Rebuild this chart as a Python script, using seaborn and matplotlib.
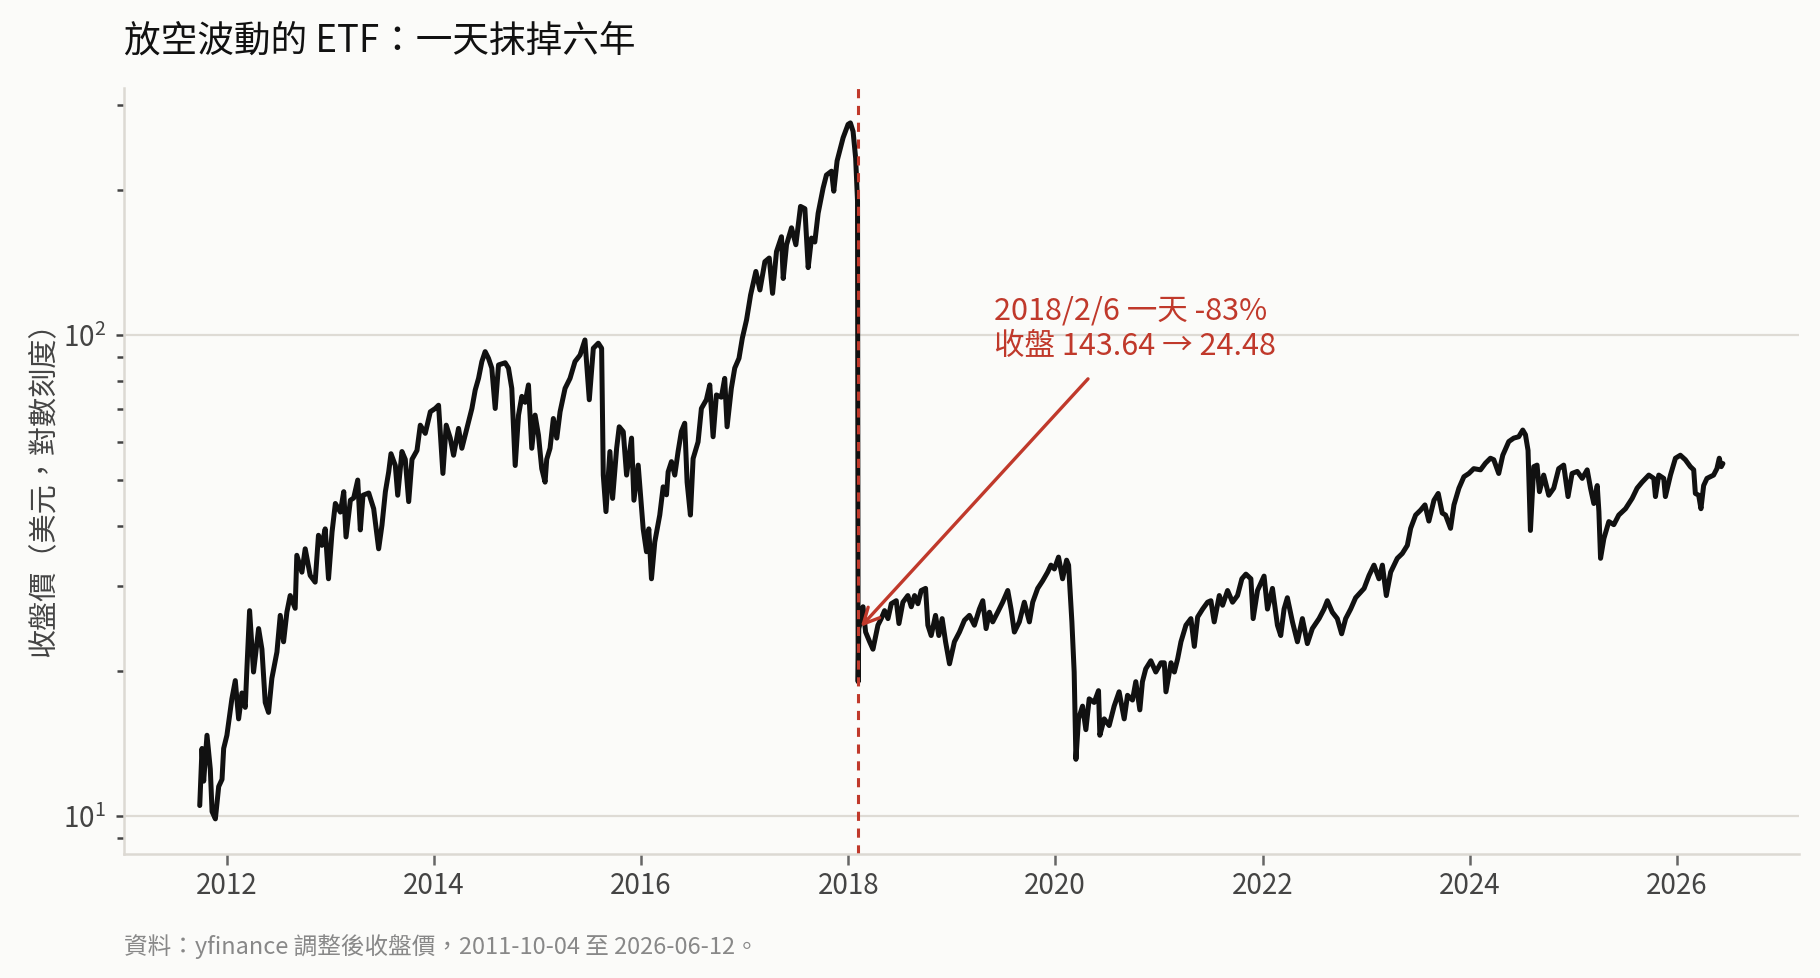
import pandas as pd
import seaborn as sns
import matplotlib.pyplot as plt
import matplotlib.dates as mdates

# decimal year, adjusted close
t_2011_2015 = [
    2011.740, 2011.762, 2011.778, 2011.810, 2011.842, 2011.859, 2011.891, 2011.923, 2011.955, 2011.971,
    2012.003, 2012.051, 2012.084, 2012.116, 2012.148, 2012.180, 2012.196, 2012.222, 2012.260, 2012.309,
    2012.341, 2012.373, 2012.405, 2012.437, 2012.486, 2012.518, 2012.550, 2012.582, 2012.614, 2012.662,
    2012.678, 2012.727, 2012.759, 2012.807, 2012.855, 2012.887, 2012.920, 2012.952, 2012.984, 2013.016,
    2013.048, 2013.096, 2013.129, 2013.151, 2013.193, 2013.225, 2013.264, 2013.289, 2013.315, 2013.370,
    2013.418, 2013.466, 2013.498, 2013.531, 2013.563, 2013.585, 2013.627, 2013.650, 2013.691, 2013.723,
    2013.756, 2013.788, 2013.836, 2013.868, 2013.916, 2013.965, 2014.013, 2014.045, 2014.087, 2014.119,
    2014.158, 2014.190, 2014.238, 2014.270, 2014.318, 2014.367, 2014.399, 2014.431, 2014.463, 2014.495,
    2014.527, 2014.559, 2014.592, 2014.624, 2014.688, 2014.720, 2014.752, 2014.785, 2014.817, 2014.849,
    2014.881, 2014.913, 2014.945, 2014.977, 2015.010, 2015.042, 2015.074, 2015.090, 2015.122, 2015.154,
    2015.187, 2015.219, 2015.267, 2015.315, 2015.363, 2015.412,
]
close_2011_2015 = [
    10.5, 13.8, 11.8, 14.7, 12.5, 10.2, 9.85, 11.5, 11.9, 13.8,
    14.7, 17.5, 19.1, 15.9, 18.0, 16.8, 20.2, 26.7, 19.9, 24.5,
    22.2, 17.2, 16.4, 19.3, 21.9, 26.1, 23.0, 26.5, 28.7, 27.0,
    34.8, 32.1, 35.9, 31.6, 30.6, 38.3, 36.5, 39.5, 31.1, 38.9,
    44.6, 42.8, 47.2, 38.0, 45.3, 45.8, 49.9, 39.3, 46.4, 46.9,
    43.5, 35.9, 40.2, 47.2, 51.9, 56.6, 53.5, 46.4, 57.2, 55.1,
    45.0, 55.1, 57.5, 64.9, 62.4, 69.2, 70.3, 71.4, 51.5, 64.9,
    61.0, 56.2, 63.9, 58.1, 63.9, 70.3, 76.8, 81.2, 88.0, 92.3,
    89.4, 85.3, 70.3, 86.6, 87.5, 85.3, 77.4, 53.5, 68.1, 74.5,
    72.4, 78.7, 58.1, 68.1, 61.9, 52.7, 49.4, 55.1, 58.1, 67.0,
    61.0, 69.2, 77.4, 81.2, 88.0, 90.8,
]

t_2015_2018 = [
    2015.459, 2015.501, 2015.540, 2015.588, 2015.620, 2015.636, 2015.662, 2015.700, 2015.726, 2015.765,
    2015.790, 2015.829, 2015.861, 2015.909, 2015.932, 2015.973, 2016.022, 2016.054, 2016.076, 2016.102,
    2016.134, 2016.182, 2016.215, 2016.247, 2016.263, 2016.295, 2016.327, 2016.359, 2016.391, 2016.423,
    2016.446, 2016.478, 2016.504, 2016.552, 2016.584, 2016.632, 2016.665, 2016.697, 2016.729, 2016.777,
    2016.809, 2016.832, 2016.873, 2016.906, 2016.947, 2016.979, 2017.018, 2017.057, 2017.108, 2017.147,
    2017.195, 2017.237, 2017.269, 2017.307, 2017.355, 2017.372, 2017.404, 2017.452, 2017.494, 2017.539,
    2017.581, 2017.613, 2017.645, 2017.677, 2017.709, 2017.757, 2017.789, 2017.838, 2017.860, 2017.892,
    2017.950, 2017.998, 2018.021, 2018.047, 2018.072, 2018.090,
]
close_2015_2018 = [
    97.6, 73.3, 93.8, 96.1, 93.8, 51.1, 42.9, 57.2, 45.7, 58.1,
    64.4, 62.9, 51.1, 61.0, 45.3, 53.6, 39.5, 35.4, 39.5, 31.1,
    37.1, 42.2, 48.3, 46.5, 51.9, 54.5, 51.1, 57.2, 63.0, 65.5,
    49.4, 42.2, 55.3, 59.9, 70.3, 73.3, 78.7, 61.4, 75.0, 74.2,
    81.2, 64.4, 77.4, 85.3, 89.4, 98.4, 107.5, 121.1, 135.5, 124.0,
    142.0, 144.5, 122.0, 149.0, 160.0, 131.0, 154.0, 167.0, 154.0, 185.0,
    183.0, 138.0, 159.0, 156.0, 179.0, 202.0, 215.0, 219.0, 199.0, 230.0,
    257.0, 274.0, 276.0, 265.0, 233.0, 190.0,
]

t_2018_2022 = [
    2018.096, 2018.102, 2018.110, 2018.143, 2018.168, 2018.207, 2018.239, 2018.287, 2018.319, 2018.351,
    2018.384, 2018.416, 2018.464, 2018.490, 2018.528, 2018.576, 2018.609, 2018.641, 2018.673, 2018.705,
    2018.747, 2018.769, 2018.801, 2018.843, 2018.875, 2018.907, 2018.940, 2018.978, 2019.026, 2019.075,
    2019.123, 2019.171, 2019.219, 2019.267, 2019.300, 2019.332, 2019.364, 2019.396, 2019.444, 2019.492,
    2019.541, 2019.573, 2019.605, 2019.653, 2019.701, 2019.750, 2019.782, 2019.830, 2019.878, 2019.926,
    2019.958, 2019.991, 2020.032, 2020.071, 2020.110, 2020.129, 2020.161, 2020.183, 2020.200, 2020.225,
    2020.264, 2020.296, 2020.328, 2020.376, 2020.418, 2020.431, 2020.473, 2020.521, 2020.569, 2020.617,
    2020.666, 2020.698, 2020.746, 2020.778, 2020.817, 2020.842, 2020.874, 2020.923, 2020.971, 2021.019,
    2021.051, 2021.067, 2021.116, 2021.148, 2021.180, 2021.212, 2021.260, 2021.308, 2021.341, 2021.373,
    2021.421, 2021.469, 2021.501, 2021.533, 2021.582, 2021.614, 2021.662, 2021.710, 2021.758, 2021.800,
    2021.839, 2021.887, 2021.909, 2021.951, 2022.015, 2022.048, 2022.096, 2022.144, 2022.176, 2022.208,
    2022.240, 2022.289, 2022.337, 2022.385, 2022.433, 2022.481, 2022.546, 2022.594, 2022.626, 2022.674,
    2022.722, 2022.764, 2022.803, 2022.851, 2022.899,
]
close_2018_2022 = [
    19.0, 24.5, 24.9, 27.2, 24.1, 23.0, 22.2, 24.9, 25.7, 26.7,
    25.7, 27.6, 28.0, 25.1, 27.8, 28.7, 27.2, 28.7, 27.6, 29.4,
    29.7, 24.9, 23.7, 26.1, 23.7, 25.7, 23.0, 20.7, 23.0, 24.1,
    25.5, 26.1, 24.9, 26.9, 28.0, 24.5, 26.5, 25.3, 26.5, 27.8,
    29.4, 26.9, 24.1, 25.3, 27.8, 25.3, 27.8, 29.7, 30.8, 32.1,
    33.2, 32.6, 34.5, 31.1, 34.0, 33.2, 25.3, 19.9, 13.1, 15.9,
    16.9, 15.1, 17.5, 17.2, 18.2, 14.7, 15.9, 15.4, 16.9, 18.1,
    15.9, 17.8, 17.4, 19.0, 16.6, 19.0, 20.2, 21.0, 19.9, 20.8,
    20.8, 18.1, 20.8, 19.9, 21.2, 23.0, 24.9, 25.7, 22.5, 25.9,
    26.9, 27.8, 28.0, 25.3, 28.7, 27.4, 29.4, 27.8, 28.7, 31.1,
    31.8, 31.1, 25.7, 29.4, 31.5, 26.9, 29.7, 24.9, 23.7, 26.9,
    28.4, 25.3, 23.0, 25.7, 22.8, 24.5, 25.7, 26.9, 28.0, 26.5,
    25.7, 23.9, 25.7, 26.9, 28.4,
]

t_2023_2026 = [
    2022.981, 2023.029, 2023.077, 2023.125, 2023.158, 2023.196, 2023.238, 2023.302, 2023.350, 2023.399,
    2023.431, 2023.479, 2023.527, 2023.569, 2023.607, 2023.656, 2023.697, 2023.736, 2023.768, 2023.816,
    2023.849, 2023.897, 2023.945, 2023.993, 2024.041, 2024.106, 2024.154, 2024.202, 2024.234, 2024.282,
    2024.321, 2024.379, 2024.427, 2024.475, 2024.514, 2024.540, 2024.565, 2024.588, 2024.620, 2024.652,
    2024.675, 2024.716, 2024.765, 2024.813, 2024.861, 2024.909, 2024.951, 2024.990, 2025.038, 2025.086,
    2025.134, 2025.166, 2025.198, 2025.231, 2025.247, 2025.263, 2025.295, 2025.343, 2025.391, 2025.439,
    2025.504, 2025.568, 2025.616, 2025.664, 2025.729, 2025.777, 2025.793, 2025.825, 2025.873, 2025.889,
    2025.938, 2025.986, 2026.034, 2026.082, 2026.131, 2026.163, 2026.179, 2026.211, 2026.233, 2026.259,
    2026.291, 2026.355, 2026.387, 2026.410, 2026.429, 2026.445,
]
close_2023_2026 = [
    29.7, 31.6, 33.2, 31.1, 33.2, 28.7, 32.1, 34.3, 35.1, 36.5,
    39.6, 42.2, 43.2, 44.3, 41.0, 45.3, 46.8, 42.6, 42.2, 39.6,
    44.3, 48.0, 50.7, 51.5, 52.7, 52.4, 54.1, 55.4, 55.0, 51.5,
    56.2, 60.0, 61.0, 61.4, 63.4, 62.0, 57.5, 39.2, 53.2, 53.6,
    47.2, 51.1, 46.4, 48.0, 52.7, 53.6, 46.1, 51.5, 52.0, 50.3,
    52.4, 48.0, 44.6, 48.6, 42.9, 34.3, 37.7, 40.9, 40.3, 42.2,
    43.5, 45.7, 48.0, 49.4, 51.1, 50.3, 46.1, 51.1, 50.3, 46.1,
    51.1, 55.4, 56.2, 55.0, 53.2, 52.4, 46.8, 46.4, 43.5, 48.6,
    50.3, 51.1, 52.7, 55.4, 53.2, 54.0,
]

crash_date = "2018-02-06"
crash_close = 24.48

title = "放空波動的 ETF：一天抹掉六年"
ylabel = "收盤價（美元，對數刻度）"
note = "2018/2/6 一天 -83%\n收盤 143.64 → 24.48"
source = "資料：yfinance 調整後收盤價，2011-10-04 至 2026-06-12。"

years = t_2011_2015 + t_2015_2018 + t_2018_2022 + t_2023_2026
close = close_2011_2015 + close_2015_2018 + close_2018_2022 + close_2023_2026
dates = pd.to_datetime([f"{int(y)}-01-01" for y in years]) + pd.to_timedelta(
    [(y % 1) * 365.25 for y in years], unit="D")
df = pd.DataFrame({"date": dates, "close": close})

RED = "#c0392b"
BG = "#fbfbf9"

sns.set_style("white")
plt.rcParams["font.family"] = ["Noto Sans CJK TC", "DejaVu Sans"]
plt.rcParams["mathtext.fontset"] = "custom"
plt.rcParams["mathtext.rm"] = "Noto Sans CJK TC"
plt.rcParams["axes.unicode_minus"] = False

fig, ax = plt.subplots(figsize=(9.1, 4.895), dpi=200)
fig.patch.set_facecolor(BG)
ax.set_facecolor(BG)
fig.subplots_adjust(left=0.0679, right=0.9885, top=0.909, bottom=0.127)

sns.lineplot(data=df, x="date", y="close", ax=ax, color="#111111", lw=1.8)
ax.set_yscale("log")

ax.axvline(pd.Timestamp(crash_date), color=RED, lw=1.1, ls=(0, (3, 2.5)))

ax.annotate(note, xy=(pd.Timestamp("2018-02-08"), crash_close),
            xytext=(pd.Timestamp("2019-05-30"), 103.5),
            ha="left", va="center", color=RED, fontsize=11, linespacing=1.15,
            arrowprops=dict(arrowstyle="->", color=RED, lw=1.2,
                            shrinkA=6, shrinkB=1, mutation_scale=14))

ax.xaxis.set_major_locator(mdates.YearLocator(2))
ax.xaxis.set_major_formatter(mdates.DateFormatter("%Y"))

ax.grid(axis="y", which="major", color="#dedbd5", lw=0.8)
ax.grid(axis="x", visible=False)
for s in ["top", "right"]:
    ax.spines[s].set_visible(False)
for s in ["left", "bottom"]:
    ax.spines[s].set_color("#dcd9d3")
    ax.spines[s].set_linewidth(0.9)

ax.tick_params(axis="y", which="both", left=True)
ax.tick_params(axis="x", which="major", bottom=True)
ax.tick_params(axis="both", which="major", labelsize=10, colors="#444444",
               length=3, width=0.9)
ax.tick_params(axis="y", which="minor", length=2.5, width=0.9, color="#444444")
ax.tick_params(axis="x", which="major", length=4, pad=2, color="#666666")

ax.set_xlabel("")
ax.set_ylabel(ylabel, fontsize=10.5, color="#444444")
ax.yaxis.set_label_coords(-0.039, 0.487)

fig.text(0.0679, 0.958, title, fontsize=13.2, color="#111111", ha="left", va="center")
fig.text(0.0679, 0.033, source, fontsize=8.5, color="#888888", ha="left", va="center")

fig.savefig("out.png", dpi=200, facecolor=BG)
